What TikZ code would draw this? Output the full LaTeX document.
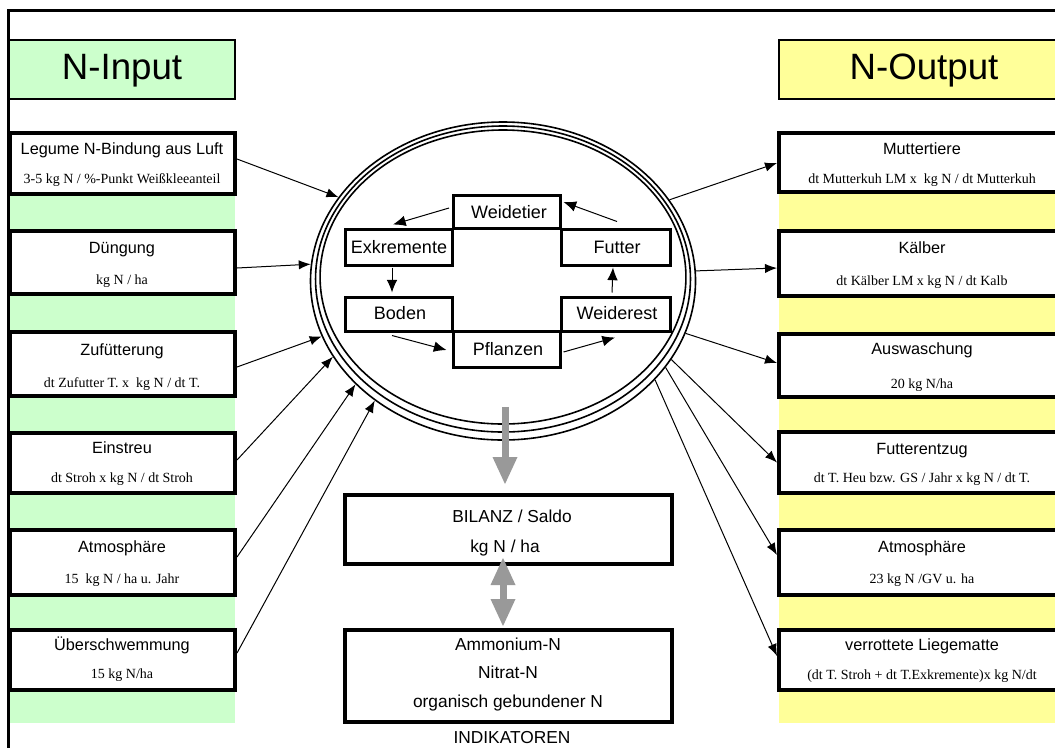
\documentclass[tikz,border=0pt]{standalone}
\usepackage{fontspec}
\setmainfont{Liberation Serif}
\newfontfamily\cf{Liberation Sans}
\usetikzlibrary{arrows.meta,shapes.geometric,fit,calc}
\definecolor{ngreen}{HTML}{CCFFCC}
\definecolor{nyellow}{HTML}{FFFF99}
\definecolor{agray}{HTML}{999999}
\begin{document}
\begin{tikzpicture}[x=0.75pt,y=-0.75pt,
  box/.style={draw,line width=3pt,fill=white,inner sep=0pt},
  ibox/.style={draw,line width=2.25pt,fill=white,inner sep=0pt},
  hdr/.style={draw,line width=1.5pt,inner sep=0pt},
  ttl/.style={font=\cf\fontsize{12.2}{14}\selectfont,inner sep=0pt,anchor=base},
  sub/.style={font=\fontsize{10.5}{12}\selectfont,inner sep=0pt,anchor=base},
  htx/.style={font=\cf\fontsize{27.5}{30}\selectfont,inner sep=0pt,anchor=base},
  itx/.style={font=\cf\fontsize{13.5}{15}\selectfont,inner sep=0pt,anchor=base},
  btx/.style={font=\cf\fontsize{13}{15}\selectfont,inner sep=0pt,anchor=base},
  conn/.style={line width=0.75pt,-{Latex[length=9pt,width=7pt]}},
  iconn/.style={line width=0.75pt,-{Latex[length=9.5pt,width=8pt]}},
  garrow/.style={draw=agray,line width=5.25pt},
  ell/.style={line width=1.2pt},
]
\useasboundingbox (0,0) rectangle (1055,747);
\clip (0,0) rectangle (1055,747);
\fill[white] (0,0) rectangle (1055,747);

% coloured columns
\fill[ngreen] (9,133) rectangle (235,723);
\fill[nyellow] (779,133) rectangle (1075,723);

% headers
\node[hdr,fill=ngreen,fit={(9,40)(235,99)}] (hin) {};
\node[hdr,fill=nyellow,fit={(779,40)(1075,99)}] (hout) {};
\node[htx] (hint) at (122,79) {N-Input};
\node[htx] (houtt) at (924,79) {N-Output};

% left boxes
\node[box,fit={(10,133)(235,194)}] (leg) {};
\node[box,fit={(10,231)(235,294)}] (due) {};
\node[box,fit={(10,332)(235,396)}] (zuf) {};
\node[box,fit={(10,433)(235,493)}] (ein) {};
\node[box,fit={(10,530)(235,595)}] (atl) {};
\node[box,fit={(10,630)(235,690)}] (ueb) {};

% right boxes
\node[box,fit={(779,133)(1075,192)}] (mut) {};
\node[box,fit={(779,231)(1075,296)}] (kae) {};
\node[box,fit={(779,334)(1075,397)}] (aus) {};
\node[box,fit={(779,432)(1075,493)}] (fut) {};
\node[box,fit={(779,530)(1075,595)}] (atr) {};
\node[box,fit={(779,630)(1075,690)}] (ver) {};

% outer frame
\draw[line width=2pt] (8.5,760) -- (8.5,10.5) -- (1070,10.5);

% left texts
\node[ttl] (legT) at (122,154) {Legume N-Bindung aus Luft};
\node[sub] (legS) at (122,183) {3-5 kg N / \%-Punkt Weißkleeanteil};
\node[ttl] (dueT) at (122,253) {Düngung};
\node[sub] (dueS) at (122,284) {kg N / ha};
\node[ttl] (zufT) at (122,355) {Zufütterung};
\node[sub] (zufS) at (122,387) {dt Zufutter T. x \ kg N / dt T.};
\node[ttl] (einT) at (122,453) {Einstreu};
\node[sub] (einS) at (122,482) {dt Stroh x kg N / dt Stroh};
\node[ttl] (atlT) at (122,552) {Atmosphäre};
\node[sub] (atlS) at (122,583) {15 \ kg N / ha u. Jahr};
\node[ttl] (uebT) at (122,650) {Überschwemmung};
\node[sub] (uebS) at (122,678) {15 kg N/ha};

% right texts
\node[ttl] (mutT) at (922,154) {Muttertiere};
\node[sub] (mutS) at (922,183) {dt Mutterkuh LM x \ kg N / dt Mutterkuh};
\node[ttl] (kaeT) at (922,253) {Kälber};
\node[sub] (kaeS) at (922,285) {dt Kälber LM x kg N / dt Kalb};
\node[ttl] (ausT) at (922,354) {Auswaschung};
\node[sub] (ausS) at (922,388) {20 kg N/ha};
\node[ttl] (futT) at (922,454) {Futterentzug};
\node[sub] (futS) at (922,482) {dt T. Heu bzw. GS / Jahr x kg N / dt T.};
\node[ttl] (atrT) at (922,552) {Atmosphäre};
\node[sub] (atrS) at (922,583) {23 kg N /GV u. ha};
\node[ttl] (verT) at (922,650) {verrottete Liegematte};
\node[sub] (verS) at (922,679) {(dt T. Stroh + dt T.Exkremente)x kg N/dt};

% ellipse (triple line)
\node[draw,ellipse,ell,minimum width=288.75pt,minimum height=238.5pt,inner sep=0pt] (ell) at (503,281) {};
\draw[ell] (503,279) ellipse [x radius=140.6pt, y radius=114.75pt];
\draw[ell] (503,277) ellipse [x radius=137.2pt, y radius=110.25pt];

% inner boxes
\node[ibox,fit={(453,195)(560,228)}] (wt) {};
\node[ibox,fit={(345,229)(452,265)}] (ex) {};
\node[ibox,fit={(561,229)(670,265)}] (fu) {};
\node[ibox,fit={(345,297)(452,331)}] (bo) {};
\node[ibox,fit={(561,297)(670,331)}] (wr) {};
\node[ibox,fit={(453,331)(560,367)}] (pf) {};
\node[itx] (wtT) at (509,218) {Weidetier};
\node[itx] (exT) at (399,253) {Exkremente};
\node[itx] (fuT) at (617,253) {Futter};
\node[itx] (boT) at (400,319) {Boden};
\node[itx] (wrT) at (617,319) {Weiderest};
\node[itx] (pfT) at (508,355) {Pflanzen};

% inner cycle arrows
\draw[iconn] ($(wt.west)+(-2.5,-3.5)$) -- ($(ex.north)+(-5.5,-3)$);
\draw[iconn] ($(fu.north)+(1.5,-6)$) -- ($(wt.east)+(2,-9.5)$);
\draw[iconn] ($(ex.south)+(-6.5,1)$) -- ($(bo.north)+(-6.5,-3)$);
\draw[iconn] ($(bo.south)+(-6.5,3)$) -- ($(pf.west)+(-5,1)$);
\draw[iconn] ($(pf.east)+(2,3)$) -- ($(wr.south)+(-0.5,5)$);
\draw[iconn] ($(wr.north)+(-3.5,-3)$) -- ($(fu.south)+(-2.5,1)$);

% inputs
\draw[conn] ($(leg.east)+(0,-4.5)$) -- (ell.153.9);
\draw[conn] ($(due.east)+(0,5.5)$) -- (ell.175.8);
\draw[conn] ($(zuf.east)+(0,3)$) -- (ell.197.8);
\draw[conn] ($(ein.east)+(0,-3)$) -- (ell.204.9);
\draw[conn] ($(atl.east)+(0,-5.5)$) -- (ell.215.3);
\draw[conn] ($(ueb.east)+(0,-7)$) -- (ell.223.1);

% outputs
\draw[conn] (ell.26.1) -- ($(mut.west)+(0,0.5)$);
\draw[conn] (ell.3.8) -- ($(kae.west)+(0,4.5)$);
\draw[conn] (ell.344.1) -- ($(aus.west)+(0,-2.5)$);
\draw[conn] (ell.335.1) -- ($(fut.west)+(0,0)$);
\draw[conn] (ell.332.3) -- ($(atr.west)+(0,-7.5)$);
\draw[conn] (ell.327.4) -- ($(ver.west)+(0,-4)$);

% balance boxes
\node[box,fit={(345,495)(672,564)}] (bil) {};
\node[box,fit={(345,630)(672,722)}] (amm) {};
\node[btx] (bilT1) at (512,522) {BILANZ / Saldo};
\node[btx] (bilT2) at (505,552) {kg N / ha};
\node[btx] (ammT1) at (508,650) {Ammonium-N};
\node[btx] (ammT2) at (508,678) {Nitrat-N};
\node[btx] (ammT3) at (508,707) {organisch gebundener N};
\node[btx] (indT) at (512,743) {INDIKATOREN};

% grey arrows
\draw[garrow,-{Triangle[length=21pt,width=17pt]}] ($(ell.south)+(2,-34)$) -- ($(bil.north)+(-3.5,-8)$);
\draw[garrow,{Triangle[length=21pt,width=17pt]}-{Triangle[length=21pt,width=17pt]}] ($(bil.south)+(-5.5,-9)$) -- ($(amm.north)+(-5.5,-1)$);
\end{tikzpicture}
\end{document}
